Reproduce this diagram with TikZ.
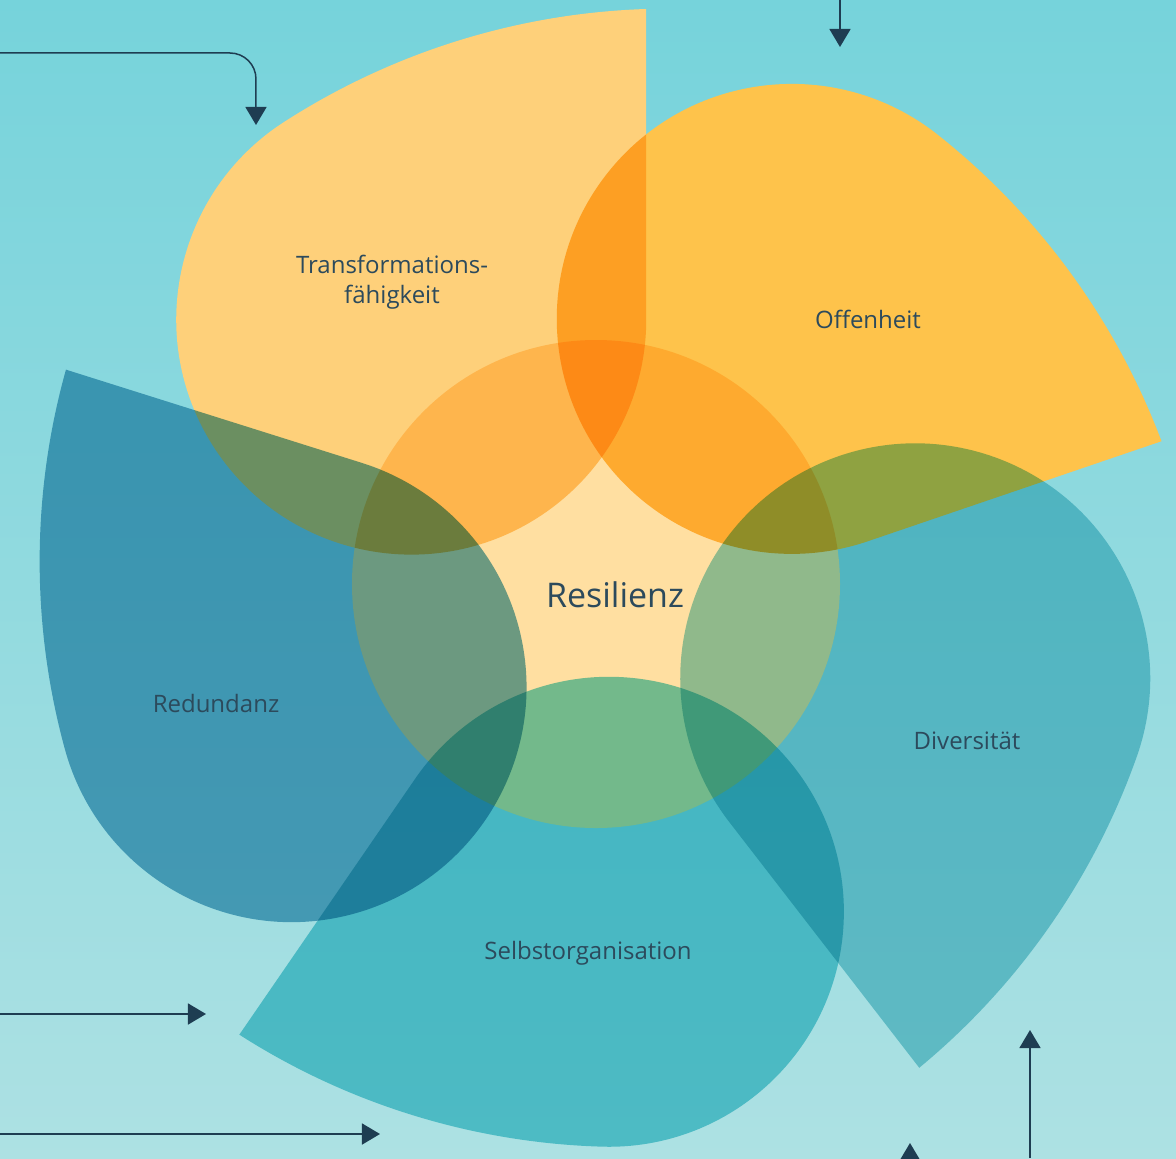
\documentclass[tikz,border=0pt]{standalone}
\usepackage{fontspec}
\setmainfont{Open Sans}
\usetikzlibrary{arrows.meta}
\definecolor{bgtop}{HTML}{76D3DB}
\definecolor{bgmid}{HTML}{8BDAE1}
\definecolor{bgbottom}{HTML}{ADE1E3}
\definecolor{corepeach}{HTML}{FFDFA1}
\definecolor{trafoyellow}{HTML}{FED07A}
\definecolor{openyellow}{HTML}{FEC34B}
\definecolor{diverblue}{HTML}{90D4DD}
\definecolor{selfblue}{HTML}{73D4DD}
\definecolor{redunblue}{HTML}{6CB0CB}
\definecolor{textslate}{HTML}{2C4A5C}
\definecolor{arrowblue}{HTML}{1E3D52}

\begin{document}
\begin{tikzpicture}[x=0.5pt,y=0.5pt,
	petaltext/.style={text=textslate,font=\fontsize{12}{15}\selectfont,align=center},
	inflow/.style={draw=arrowblue,line width=0.75pt,-{Triangle[width=10.5pt,length=9pt]}}]
	\clip (-602,585) rectangle (574,-573);
	\shade[top color=bgtop,middle color=bgmid,bottom color=bgbottom] (-602,585) rectangle (574,-573);
	% warm petals with the core
	\begin{scope}[transparency group]
		\fill[corepeach] (-6,1) circle[radius=244];
		\foreach \ang/\col in {0/trafoyellow,-71.2/openyellow}{
			\fill[\col,rotate=\ang,blend mode=multiply] (44.2,576) arc[start angle=91.87,end angle=122.8,radius=711.6] arc[start angle=122.8,end angle=360,radius=235] -- cycle;
		}
	\end{scope}
	% cool petals
	\foreach \ang/\col in {-142.3/diverblue,-214.5/selfblue,-287.5/redunblue}{
		\fill[\col,rotate=\ang,blend mode=multiply] (44.2,576) arc[start angle=91.87,end angle=122.8,radius=711.6] arc[start angle=122.8,end angle=360,radius=235] -- cycle;
	}
	% labels
	\node[petaltext] (trafo) at (-210,303) {Transformations-\\fähigkeit};
	\node[petaltext] (offen) at (266,266) {Offenheit};
	\node[petaltext] (divers) at (365,-156) {Diversität};
	\node[petaltext] (selbst) at (-14,-368) {Selbstorganisation};
	\node[petaltext] (redun) at (-386,-118) {Redundanz};
	\node[petaltext,font=\fontsize{17}{20}\selectfont] (resil) at (13,-10) {Resilienz};
	% arrows at the edges
	\coordinate (inA) at (-602,532);
	\coordinate (inAend) at (-346,460);
	\coordinate (inB) at (238,585);
	\coordinate (inBend) at (238,538);
	\coordinate (inC) at (-602,-429);
	\coordinate (inCend) at (-396,-429);
	\coordinate (inD) at (-602,-549);
	\coordinate (inDend) at (-222,-549);
	\coordinate (outE) at (428,-573);
	\coordinate (outEend) at (428,-445);
	\coordinate (outF) at (308,-615);
	\coordinate (outFend) at (308,-558);
	\draw[inflow,rounded corners=13pt] (inA) -| (inAend);
	\draw[inflow] (inB) -- (inBend);
	\draw[inflow] (inC) -- (inCend);
	\draw[inflow] (inD) -- (inDend);
	\draw[inflow] (outE) -- (outEend);
	\draw[inflow] (outF) -- (outFend);
\end{tikzpicture}
\end{document}
